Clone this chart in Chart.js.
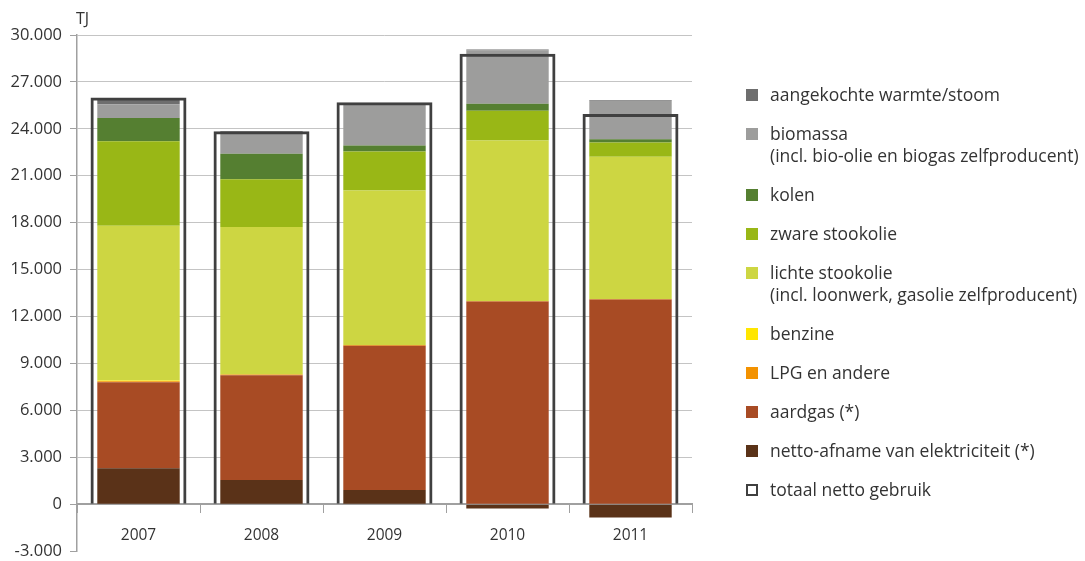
<!DOCTYPE html>
<html>
<head>
<meta charset="utf-8">
<script src="https://cdn.jsdelivr.net/npm/chart.js@4"></script>
<style>
  html, body { margin: 0; background: #fff; font-family: "Open Sans", sans-serif; color: #333; overflow: hidden; }
  #wrap { position: relative; width: 1085px; height: 569px; }
  #unit { position: absolute; left: 76px; top: 7px; font-size: 16px; }
  #legend { position: absolute; left: 746px; top: 83px; display: flex; flex-direction: column; gap: 17px; }
  .item { display: flex; align-items: flex-start; font-size: 17.5px; line-height: 22px; white-space: nowrap; }
  .box { width: 12px; height: 12px; margin-top: 6px; margin-right: 12px; flex: none; box-sizing: border-box; }
</style>
</head>
<body>
<div id="wrap">
  <canvas id="myChart"></canvas>
  <div id="unit">TJ</div>
  <div id="legend"></div>
</div>
<script>
const years = ["2007", "2008", "2009", "2010", "2011"];

// TJ per bron, van onder naar boven gestapeld
const elektriciteit = [2300, 1550, 900, -280, -850];
const aardgas = [5500, 6700, 9230, 12960, 13090];
const lpg = [60, 40, 50, 30, 30];
const benzine = [50, 0, 0, 0, 0];
const lichteStookolie = [9890, 9440, 9870, 10260, 9100];
const zwareStookolie = [5400, 3050, 2500, 1900, 900];
const kolen = [1500, 1620, 380, 450, 220];
const biomassa = [880, 1390, 2650, 3410, 2450];
const warmte = [300, 50, 60, 60, 50];
const totaal = [26000, 23850, 25700, 28800, 24950];

const yTicks = { min: -3000, max: 30000, step: 3000 };

const series = [
  { label: "netto-afname van elektriciteit (*)", data: elektriciteit, color: "#5a3218" },
  { label: "aardgas (*)", data: aardgas, color: "#a84b24" },
  { label: "LPG en andere", data: lpg, color: "#f39200" },
  { label: "benzine", data: benzine, color: "#ffe600" },
  { label: "lichte stookolie\n(incl. loonwerk, gasolie zelfproducent)", data: lichteStookolie, color: "#cdd642" },
  { label: "zware stookolie", data: zwareStookolie, color: "#99b716" },
  { label: "kolen", data: kolen, color: "#557f31" },
  { label: "biomassa\n(incl. bio-olie en biogas zelfproducent)", data: biomassa, color: "#9d9d9c" },
  { label: "aangekochte warmte/stoom", data: warmte, color: "#6e6e6e" },
];

const fmt = (v) => String(v).replace(/\B(?=(\d{3})+(?!\d))/g, ".");

const datasets = [
  {
    label: "totaal netto gebruik",
    data: totaal,
    xAxisID: "x2",
    stack: "totaal",
    grouped: false,
    backgroundColor: "rgba(0,0,0,0)",
    borderColor: "#404040",
    borderWidth: 3,
    borderSkipped: "bottom",
    barPercentage: 0.78,
    categoryPercentage: 1,
  },
].concat(
  series.map((s) => ({
    label: s.label,
    data: s.data,
    xAxisID: "x",
    stack: "bronnen",
    grouped: false,
    backgroundColor: s.color,
    borderWidth: 0,
    barPercentage: 0.67,
    categoryPercentage: 1,
  }))
);

const ctx = document.getElementById("myChart").getContext("2d");
new Chart(ctx, {
  type: "bar",
  data: { labels: years, datasets: datasets },
  options: {
    responsive: true,
    maintainAspectRatio: false,
    animation: false,
    layout: { padding: { top: 35, right: 393, bottom: 3, left: 0 } },
    plugins: { legend: { display: false }, tooltip: { enabled: false } },
    scales: {
      x: {
        position: { y: 0 },
        stacked: true,
        grid: { drawOnChartArea: false, color: "#a0a0a0", tickLength: 8 },
        border: { color: "#a0a0a0", width: 2 },
        ticks: { color: "#333", font: { family: "Open Sans", size: 15.5 }, padding: 14 },
      },
      x2: {
        display: false,
        offset: true,
        grid: { offset: true },
      },
      y: {
        stacked: true,
        min: yTicks.min,
        max: yTicks.max,
        afterFit: (scale) => { scale.width = 77; },
        grid: {
          color: (c) => (c.tick && c.tick.value === yTicks.min ? "rgba(0,0,0,0)" : "#c4c4c4"),
          tickColor: "#a0a0a0",
          tickLength: 7,
        },
        border: { color: "#a0a0a0", width: 1.5 },
        ticks: {
          stepSize: yTicks.step,
          color: "#333",
          font: { family: "Open Sans", size: 16.5 },
          padding: 8,
          callback: (v) => fmt(v),
        },
      },
    },
  },
});

// legenda in dezelfde volgorde als het origineel
const legend = document.getElementById("legend");
series.slice().reverse().forEach((s) => {
  const item = document.createElement("div");
  item.className = "item";
  const box = document.createElement("span");
  box.className = "box";
  box.style.background = s.color;
  const txt = document.createElement("span");
  txt.innerHTML = s.label.replace("\n", "<br>");
  item.appendChild(box);
  item.appendChild(txt);
  legend.appendChild(item);
});
const tot = document.createElement("div");
tot.className = "item";
tot.innerHTML = '<span class="box" style="border:2px solid #404040"></span><span>totaal netto gebruik</span>';
legend.appendChild(tot);
</script>
</body>
</html>
